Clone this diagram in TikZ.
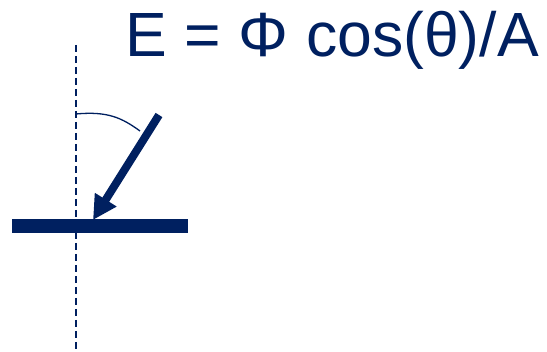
\documentclass[tikz,border=0pt]{standalone}
\usepackage{fontspec}
\setmainfont{Liberation Sans}
\usetikzlibrary{arrows.meta}
\definecolor{navy}{HTML}{002060}
\tikzset{
  normal/.style={draw=navy, line width=1.3pt, dash pattern=on 7pt off 4pt},
  surface/.style={draw=navy, line width=14pt},
  ray/.style={draw=navy, line width=8pt, -{Triangle[length=24pt,width=24pt]}},
  anglearc/.style={draw=navy, line width=1.3pt},
  formula/.style={text=navy, font=\fontsize{62.5}{70}\selectfont, inner sep=0pt, anchor=base east}
}
\begin{document}
\begin{tikzpicture}[x=1pt,y=-1pt]
\useasboundingbox (0,0) rectangle (547,352);
\coordinate (ntop) at (76,45);
\coordinate (nbot) at (76,352);
\coordinate (sl) at (12,226);
\coordinate (sr) at (188,226);
\coordinate (rs) at (159,115);
\coordinate (rt) at (93,220);
\coordinate (a1) at (76,114);
\coordinate (a2) at (140,131);
\draw[normal] (ntop) -- (nbot);
\draw[surface] (sl) -- (sr);
\draw[ray] (rs) -- (rt);
\draw[anglearc] (a1) .. controls (108,111) and (122,118) .. (a2);
\node[formula] (eq) at (539,57) {E = Φ cos(θ)/A};
\end{tikzpicture}
\end{document}
